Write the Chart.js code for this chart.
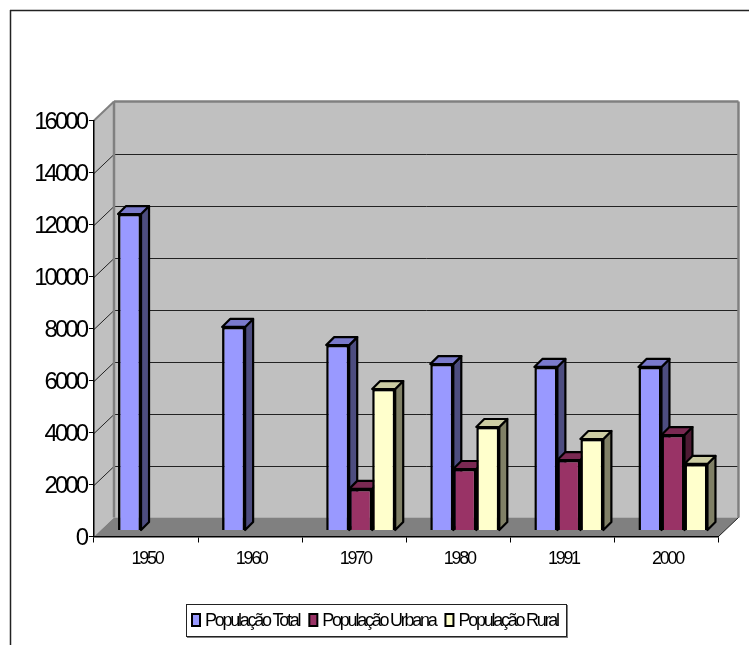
<!DOCTYPE html>
<html>
<head>
<meta charset="utf-8">
<style>
  html, body { margin: 0; padding: 0; background: #fff; overflow: hidden; }
  canvas { display: block; }
</style>
<script src="https://cdn.jsdelivr.net/npm/chart.js@4"></script>
</head>
<body>
<canvas id="chart" width="749" height="645"></canvas>
<script>
const years = ["1950", "1960", "1970", "1980", "1991", "2000"];
const popTotal = [12170, 7830, 7130, 6400, 6290, 6290];
const popUrbana = [null, null, 1600, 2365, 2710, 3670];
const popRural = [null, null, 5440, 3980, 3520, 2560];
const seriesNames = ["População Total", "População Urbana", "População Rural"];

const FONT = "'Liberation Sans', Arial, sans-serif";
const WALL_DX = 20, WALL_DY = -19;   // back wall offset
const BAR_DX = 6.5, BAR_DY = -6;     // bars stand inside the floor
const DEPTH = 8;                     // bar depth

// shaded faces for each series, same order as the datasets
const sideColors = ["#4D4D80", "#4D1A33", "#808066"];
const topColors = ["#7A7ACC", "#7A2952", "#CCCCA3"];

function poly(ctx, pts, fill, stroke, lw){
    ctx.beginPath();
    pts.forEach((p, i) => i ? ctx.lineTo(p[0], p[1]) : ctx.moveTo(p[0], p[1]));
    ctx.closePath();
    if(fill){ ctx.fillStyle = fill; ctx.fill(); }
    if(stroke){ ctx.strokeStyle = stroke; ctx.lineWidth = lw; ctx.lineJoin = "round"; ctx.stroke(); }
}

function line(ctx, x1, y1, x2, y2, color, lw){
    ctx.beginPath();
    ctx.moveTo(x1, y1);
    ctx.lineTo(x2, y2);
    ctx.strokeStyle = color;
    ctx.lineWidth = lw;
    ctx.stroke();
}

// tick labels are squeezed in the original, canvas letterSpacing does that per axis
function squeeze(scale, spacing){
    if(scale.squeezed) return;
    scale.squeezed = true;
    const draw = scale.drawLabels;
    scale.drawLabels = function(area){
        this.ctx.letterSpacing = spacing;
        draw.call(this, area);
        this.ctx.letterSpacing = "0px";
    };
}

// ================= WALLS AND FRAME =================
const walls = {
    id: "walls",
    beforeDraw(chart){
        const ctx = chart.ctx, a = chart.chartArea, y = chart.scales.y;
        ctx.save();
        ctx.fillStyle = "#fff";
        ctx.fillRect(0, 0, chart.width, chart.height);
        line(ctx, 10.5, 10, 10.5, 645, "#222", 1.5);
        line(ctx, 10, 10.5, 749, 10.5, "#222", 1.5);

        const bx = a.left + WALL_DX, bt = a.top + WALL_DY, bb = a.bottom + WALL_DY, br = a.right + WALL_DX;
        poly(ctx, [[bx, bt], [br, bt], [br, bb], [bx, bb]], "#C0C0C0");
        poly(ctx, [[a.left, a.top], [bx, bt], [bx, bb], [a.left, a.bottom]], "#C0C0C0");
        poly(ctx, [[a.left, a.bottom], [bx, bb], [br, bb], [a.right, a.bottom]], "#808080");

        y.ticks.forEach(t => {
            if(t.value === 0 || t.value === y.max) return;
            const py = Math.round(y.getPixelForValue(t.value)) + 0.5;
            line(ctx, a.left, py, bx, py + WALL_DY, "#222", 1);
            line(ctx, bx, py + WALL_DY, br, py + WALL_DY, "#222", 1);
        });
        line(ctx, a.left, a.top, bx, bt, "#808080", 2);
        line(ctx, bx, bt, br, bt, "#808080", 2.5);
        line(ctx, bx, bt, bx, bb, "#808080", 2.5);
        line(ctx, br, bt, br, bb, "#808080", 2.5);
        line(ctx, a.right, a.bottom, br, bb, "#222", 1);
        ctx.restore();
    }
};

// ================= 3D BAR FACES =================
const bars3d = {
    id: "bars3d",
    // side and top faces go first, left series to right, the fronts then cover them
    beforeDatasetsDraw(chart){
        const ctx = chart.ctx;
        ctx.save();
        ctx.translate(BAR_DX, BAR_DY);
        chart.data.datasets.forEach((ds, i) => {
            chart.getDatasetMeta(i).data.forEach((bar, n) => {
                if(ds.data[n] == null) return;
                const l = bar.x - bar.width / 2, r = bar.x + bar.width / 2;
                poly(ctx, [[r, bar.y], [r + DEPTH, bar.y - DEPTH], [r + DEPTH, bar.base - DEPTH], [r, bar.base]], sideColors[i], "#000", 2.2);
                poly(ctx, [[l, bar.y], [l + DEPTH, bar.y - DEPTH], [r + DEPTH, bar.y - DEPTH], [r, bar.y]], topColors[i], "#000", 2.2);
            });
        });
        ctx.restore();
    },
    beforeDatasetDraw(chart){
        chart.ctx.save();
        chart.ctx.translate(BAR_DX, BAR_DY);
    },
    afterDatasetDraw(chart){
        chart.ctx.restore();
    }
};

// ================= LEGEND =================
const boxLegend = {
    id: "boxLegend",
    afterDraw(chart){
        const ctx = chart.ctx;
        ctx.save();
        ctx.fillStyle = "#808080";
        ctx.fillRect(187, 605, 381, 33);
        ctx.fillStyle = "#fff";
        ctx.fillRect(186.5, 604.5, 380, 32);
        ctx.strokeStyle = "#222";
        ctx.lineWidth = 1;
        ctx.strokeRect(186.5, 604.5, 380, 32);

        ctx.font = "18px " + FONT;
        ctx.letterSpacing = "-2.25px";
        ctx.textAlign = "left";
        ctx.textBaseline = "middle";
        let x = 191;
        chart.data.datasets.forEach(ds => {
            ctx.fillStyle = ds.backgroundColor;
            ctx.strokeStyle = "#000";
            ctx.lineWidth = 2;
            ctx.fillRect(x + 1, 614, 8, 12);
            ctx.strokeRect(x + 1, 614, 8, 12);
            ctx.fillStyle = "#000";
            ctx.fillText(ds.label, x + 14, 621);
            x += 14 + ctx.measureText(ds.label).width + 9;
        });
        ctx.restore();
    }
};

new Chart(document.getElementById("chart"), {
    type: "bar",
    data: {
        labels: years,
        datasets: [
            { label: seriesNames[0], data: popTotal, backgroundColor: "#9999FF" },
            { label: seriesNames[1], data: popUrbana, backgroundColor: "#993366" },
            { label: seriesNames[2], data: popRural, backgroundColor: "#FFFFCC" }
        ].map(d => Object.assign(d, {
            borderColor: "#000",
            borderWidth: 2.5,
            barPercentage: 1,
            categoryPercentage: 0.663,
            clip: false
        }))
    },
    options: {
        responsive: false,
        animation: false,
        layout: { padding: { top: 120.5, right: 30.5, bottom: 0, left: 0 } },
        plugins: { legend: { display: false }, tooltip: { enabled: false } },
        scales: {
            x: {
                grid: { drawOnChartArea: false, color: "#000", tickLength: 6 },
                border: { color: "#000", width: 1.5 },
                ticks: { color: "#000", font: { family: FONT, size: 18 }, padding: 6, labelOffset: 1, maxRotation: 0 },
                afterFit(scale){ scale.height = 108.5; squeeze(scale, "-2.3px"); }
            },
            y: {
                min: 0,
                max: 16000,
                grid: { drawOnChartArea: false, color: "#000", tickLength: 5 },
                border: { color: "#000", width: 1.5 },
                ticks: {
                    stepSize: 2000,
                    color: "#000",
                    font: { family: FONT, size: 24 },
                    padding: 3,
                    labelOffset: 1.5,
                    callback: v => String(v)
                },
                afterFit(scale){ scale.width = 94; squeeze(scale, "-3px"); }
            }
        }
    },
    plugins: [walls, bars3d, boxLegend]
});
</script>
</body>
</html>
